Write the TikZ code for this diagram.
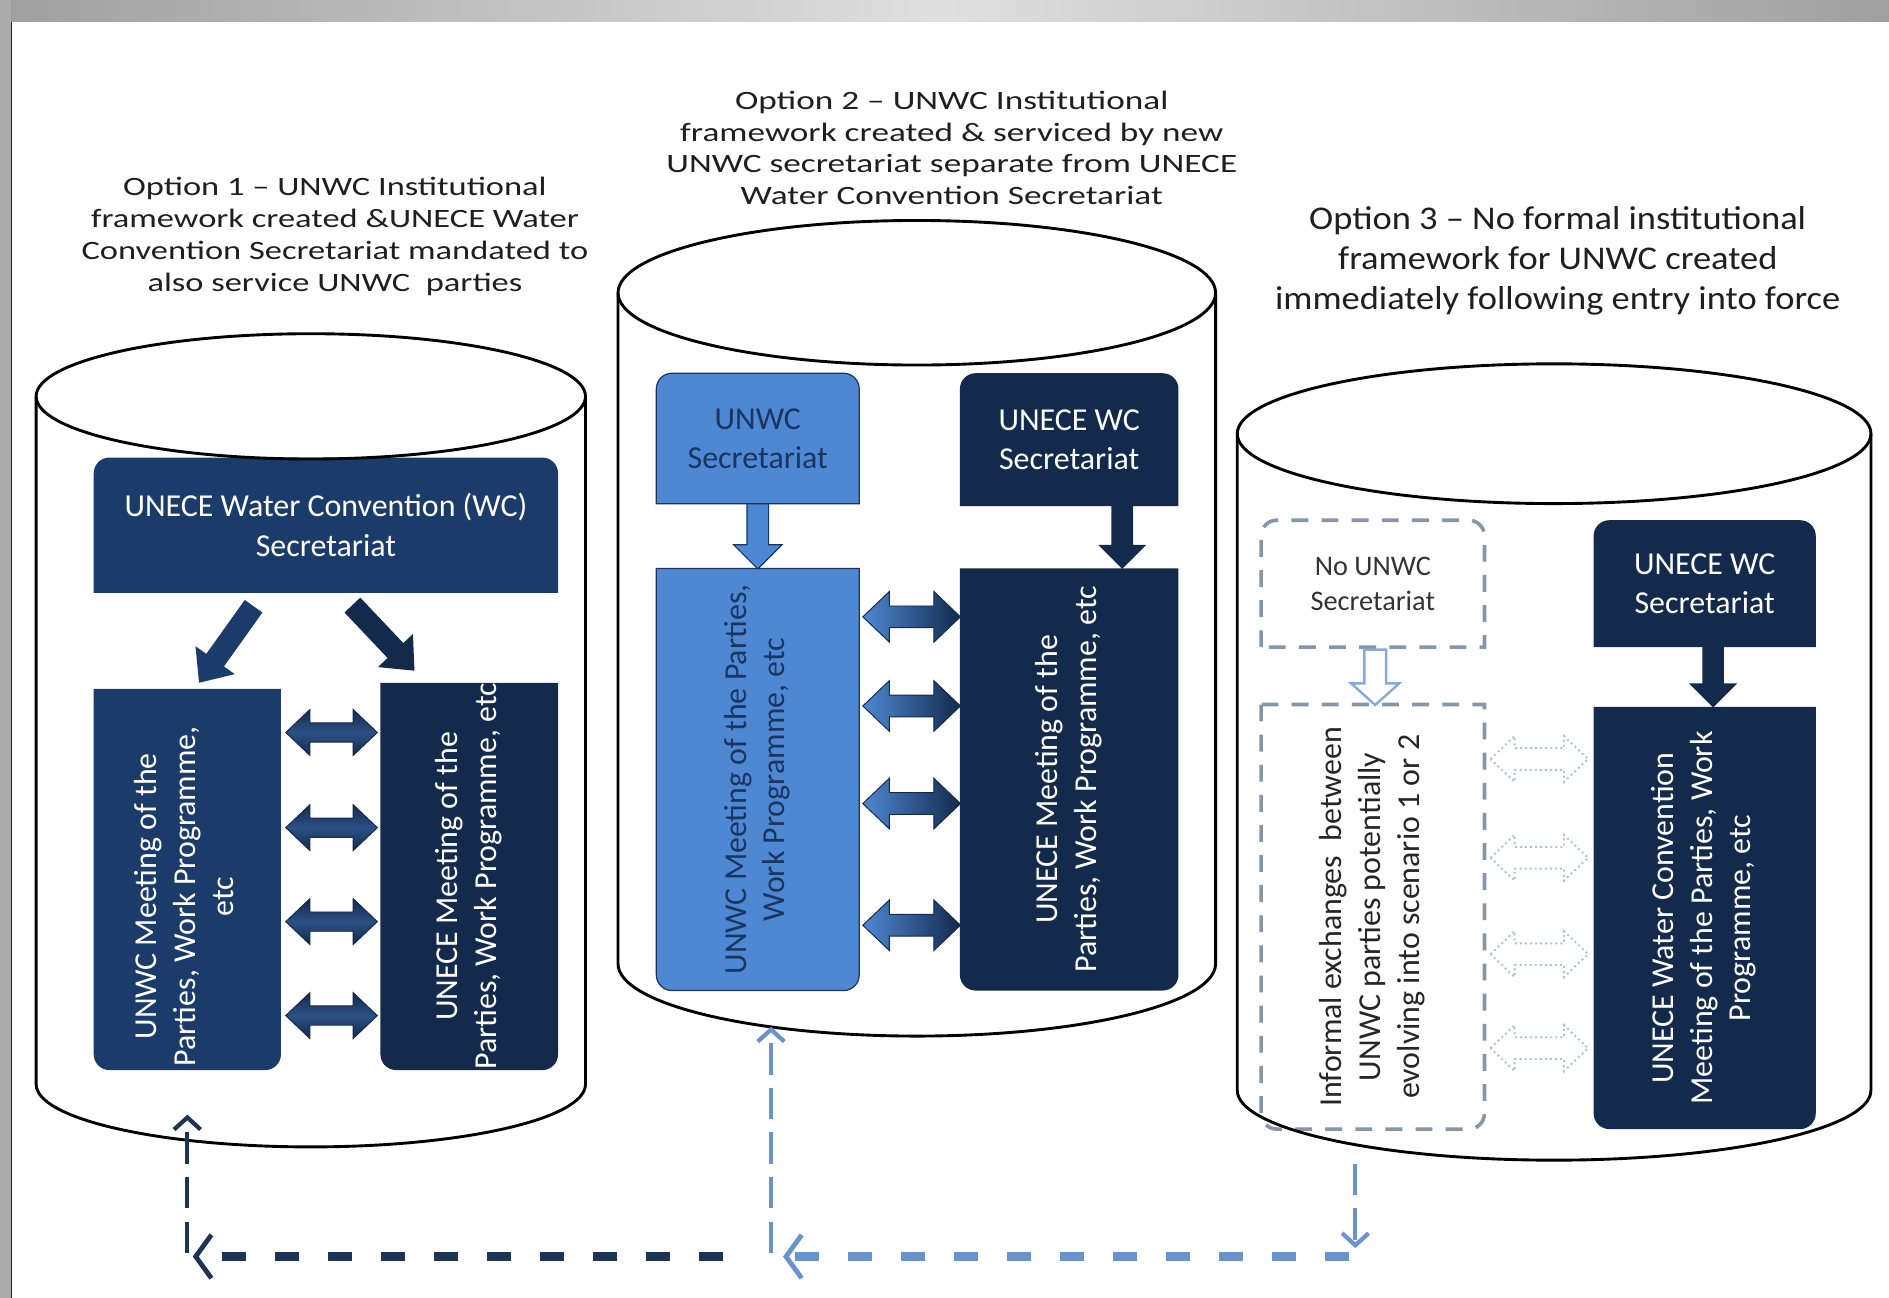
\documentclass[tikz,border=0pt]{standalone}
\usepackage{fontspec}
\setmainfont{Carlito}
\usetikzlibrary{arrows.meta,calc,backgrounds}

\definecolor{navyA}{HTML}{1B3C6B}
\definecolor{navyB}{HTML}{132A4D}
\definecolor{navyC}{HTML}{1A3560}
\definecolor{navyM}{HTML}{2C5084}
\definecolor{midblue}{HTML}{4E88D2}
\definecolor{dashgray}{HTML}{8596AB}
\definecolor{hollowblue}{HTML}{86AADB}
\definecolor{linkblue}{HTML}{6A92CB}
\definecolor{linknavy}{HTML}{1E3457}
\definecolor{dotgray}{HTML}{B0BFD0}

\newcommand\setfs[2]{\fontsize{#1}{#2}\selectfont}

% cylinder outline: centre x, x radius, top centre y, bottom centre y, y radius
\newcommand\cylinderoutline[5]{%
  \draw[cylline] (#1,#3) ellipse[x radius=#2pt, y radius=#5pt];
  \draw[cylline] (#1-#2,#3) -- (#1-#2,#4)
    arc[start angle=180, end angle=360, x radius=#2pt, y radius=#5pt] -- (#1+#2,#3);}

% box outline with rounded top corners / rounded bottom corners
\newcommand\cbtop[2]{%
  \path[#2] (#1.south west) -- ([yshift=-13pt]#1.north west)
    arc[start angle=180, end angle=90, radius=13pt]
    -- ([xshift=-13pt]#1.north east)
    arc[start angle=90, end angle=0, radius=13pt] -- (#1.south east) -- cycle;}
\newcommand\cbbot[2]{%
  \path[#2] (#1.north west) -- ([yshift=13pt]#1.south west)
    arc[start angle=180, end angle=270, radius=13pt]
    -- ([xshift=-13pt]#1.south east)
    arc[start angle=270, end angle=360, radius=13pt] -- (#1.north east) -- cycle;}

% block arrow: style, start, angle, length, shaft half width, head half width, head length
\newcommand\blockarrow[7]{%
  \begin{scope}[shift={#2}, rotate=#3]
    \path[#1] (0pt,-#5pt) -- ({#4pt-#7pt},-#5pt) -- ({#4pt-#7pt},-#6pt) -- (#4pt,0pt)
      -- ({#4pt-#7pt},#6pt) -- ({#4pt-#7pt},#5pt) -- (0pt,#5pt) -- cycle;
  \end{scope}}
% double block arrow, same arguments
\newcommand\dblockarrow[7]{%
  \begin{scope}[shift={#2}, rotate=#3]
    \path[#1] (0pt,0pt) -- (#7pt,#6pt) -- (#7pt,#5pt) -- ({#4pt-#7pt},#5pt)
      -- ({#4pt-#7pt},#6pt) -- (#4pt,0pt) -- ({#4pt-#7pt},-#6pt) -- ({#4pt-#7pt},-#5pt)
      -- (#7pt,-#5pt) -- (#7pt,-#6pt) -- cycle;
  \end{scope}}

\tikzset{
  cylline/.style={draw=black, line width=2.4pt},
  title/.style={inner sep=0pt, text=black!88, font=\setfs{22}{26.5}},
  boxtext/.style={inner sep=0pt, align=center, text=white, font=\setfs{26.5}{32}},
  dashbox/.style={draw=dashgray, line width=3pt, dash pattern=on 14pt off 11pt, fill=white},
  dblnavy/.style={top color=navyB, bottom color=navyB, middle color=navyM, draw=navyB, line width=0.8pt},
  dblmix/.style={left color=midblue, right color=navyB, draw=navyB, line width=0.8pt},
  dbldot/.style={draw=dotgray, line width=1.6pt, dash pattern=on 1.6pt off 2.6pt},
  vlink/.style={line width=3.5pt, dash pattern=on 26pt off 11pt},
  hlink/.style={line width=7pt, dash pattern=on 20pt off 24pt},
  vtip/.style={-{Straight Barb[length=10pt, width=22pt, line width=3.5pt]}},
  htip/.style={-{Straight Barb[length=13pt, width=36pt, line width=4pt]}}
}

\begin{document}
\begin{tikzpicture}[x=1pt, y=-1pt]
\begin{scope}[on background layer]
  \fill[white] (0,0) rectangle (1568,1077);
\end{scope}
\useasboundingbox (0,0) rectangle (1568,1077);

% frame
\shade[left color=gray!75, right color=gray!75, middle color=gray!25] (0,0) rectangle (1568,18);
\fill[gray!65] (0,0) rectangle (9,1077);
\draw[gray!25!black, line width=1.2pt] (9.6,18) -- (9.6,1077);

% titles
\node[title] (t1) at (278,197) {\scalebox{1.3}[1]{\begin{tabular}{@{}c@{}}Option 1 – UNWC Institutional\\framework created \&UNECE Water\\Convention Secretariat mandated to\\also service UNWC\ \ parties\end{tabular}}};
\node[title] (t2) at (790,125) {\scalebox{1.33}[1]{\begin{tabular}{@{}c@{}}Option 2 – UNWC Institutional\\framework created \& serviced by new\\UNWC secretariat separate from UNECE\\Water Convention Secretariat\end{tabular}}};
\node[title, font=\setfs{27.5}{33}] (t3) at (1293,217) {\scalebox{1.1}[1]{\begin{tabular}{@{}c@{}}Option 3 – No formal institutional\\framework for UNWC created\\immediately following entry into force\end{tabular}}};

% cylinders
\cylinderoutline{258}{228}{329}{900}{52}
\cylinderoutline{761}{248}{243}{800}{60}
\cylinderoutline{1290}{263}{360}{905}{58}

% option 1
\node[boxtext, minimum width=385pt, minimum height=112pt] (c1sec) at (270.5,436) {UNECE Water Convention (WC)\\[1pt]Secretariat};
\node[boxtext, minimum width=155pt, minimum height=316pt] (c1l) at (155.5,730) {\rotatebox{90}{\begin{tabular}{@{}c@{}}UNWC Meeting of the\\Parties, Work Programme,\\etc\end{tabular}\hspace{28pt}}};
\node[boxtext, minimum width=147pt, minimum height=321pt] (c1r) at (389.5,727.5) {\rotatebox{90}{\begin{tabular}{@{}c@{}}UNECE Meeting of the\\Parties, Work Programme, etc\end{tabular}}};

% option 2
\node[boxtext, text=navyC, minimum width=168pt, minimum height=108pt] (c2s1) at (629,364) {UNWC\\Secretariat};
\node[boxtext, minimum width=181pt, minimum height=110pt] (c2s2) at (887.5,365) {UNECE WC\\Secretariat};
\node[boxtext, text=navyC, minimum width=168pt, minimum height=350pt] (c2l) at (629,647) {\rotatebox{90}{\begin{tabular}{@{}c@{}}UNWC Meeting of the Parties,\\Work Programme, etc\end{tabular}}};
\node[boxtext, minimum width=181pt, minimum height=350pt] (c2r) at (887.5,647) {\rotatebox{90}{\begin{tabular}{@{}c@{}}UNECE Meeting of the\\Parties, Work Programme, etc\end{tabular}}};

% option 3
\node[boxtext, text=black!80, font=\setfs{23.5}{29}, minimum width=185pt, minimum height=105pt] (c3s1) at (1139.5,484.5) {No UNWC\\Secretariat};
\node[boxtext, text=black!85, minimum width=185pt, minimum height=352pt] (c3l) at (1139.5,761) {\rotatebox{90}{\begin{tabular}{@{}c@{}}Informal exchanges\ \ between\\UNWC parties potentially\\evolving into scenario 1 or 2\end{tabular}}};
\node[boxtext, minimum width=184pt, minimum height=105pt] (c3s2) at (1415,484.5) {UNECE WC\\Secretariat};
\node[boxtext, minimum width=184pt, minimum height=350pt] (c3r) at (1415,762) {\rotatebox{90}{\begin{tabular}{@{}c@{}}UNECE Water Convention\\Meeting of the Parties, Work\\Programme, etc\end{tabular}}};

% box bodies
\begin{scope}[on background layer]
  \cbtop{c1sec}{fill=navyA}
  \cbbot{c1l}{fill=navyA}
  \cbbot{c1r}{fill=navyB}
  \cbtop{c2s1}{fill=midblue, draw=navyC, line width=1pt}
  \cbtop{c2s2}{fill=navyB}
  \cbbot{c2l}{fill=midblue, draw=navyC, line width=1pt}
  \cbbot{c2r}{fill=navyB}
  \cbtop{c3s1}{dashbox}
  \cbbot{c3l}{dashbox}
  \cbtop{c3s2}{fill=navyB}
  \cbbot{c3r}{fill=navyB}
\end{scope}

% secretariat arrows
\blockarrow{fill=navyA}{($(c1sec.south)+(-60,11)$)}{234.5}{78}{9}{20}{23}
\blockarrow{fill=navyB}{($(c1sec.south)+(22,10)$)}{-46.6}{75}{9}{20}{23}
\blockarrow{fill=midblue, draw=navyC, line width=1pt}{(c2s1.south)}{-90}{54}{9}{20}{20}
\blockarrow{fill=navyB}{($(c2s2.south)+(44,0)$)}{-90}{52}{9}{20}{20}
\blockarrow{fill=white, draw=hollowblue, line width=2pt}{($(c3s1.south)+(2,2)$)}{-90}{46}{9}{20}{18}
\blockarrow{fill=navyB}{($(c3s2.south)+(7,0)$)}{-90}{50}{9}{20}{20}

% exchange arrows between the meeting boxes
\foreach \yy in {608,687,765,843}
  \dblockarrow{dblnavy}{($(c1l.east |- 0,\yy)+(4,0)$)}{0}{76}{8}{19}{20};
\foreach \yy in {512,586,667,768}
  \dblockarrow{dblmix}{($(c2l.east |- 0,\yy)+(3,0)$)}{0}{81}{9}{21}{22};
\foreach \yy in {630,712,792,870}
  \dblockarrow{dbldot}{($(c3l.east |- 0,\yy)+(5,0)$)}{0}{81}{9}{19}{20};

% links between the options
\coordinate (d1) at (c1l.south |- 0,1040);
\coordinate (d2) at (640,1040);
\coordinate (d3) at (1125,966);
\coordinate (d3e) at (1125,1036);
\coordinate (h3) at (1120,1043);
\coordinate (h2) at (650,1043);
\coordinate (h1) at (600,1043);
\coordinate (h0) at (160,1043);
\draw[vlink, linknavy, vtip] (d1) -- ([yshift=-37pt]c1l.south);
\draw[vlink, linkblue, vtip] (d2) -- ([xshift=11pt, yshift=-30pt]c2l.south);
\draw[vlink, linkblue, vtip] (d3) -- (d3e);
\draw[hlink, linkblue, htip] (h3) -- (h2);
\draw[hlink, linknavy, htip] (h1) -- (h0);
\end{tikzpicture}
\end{document}
